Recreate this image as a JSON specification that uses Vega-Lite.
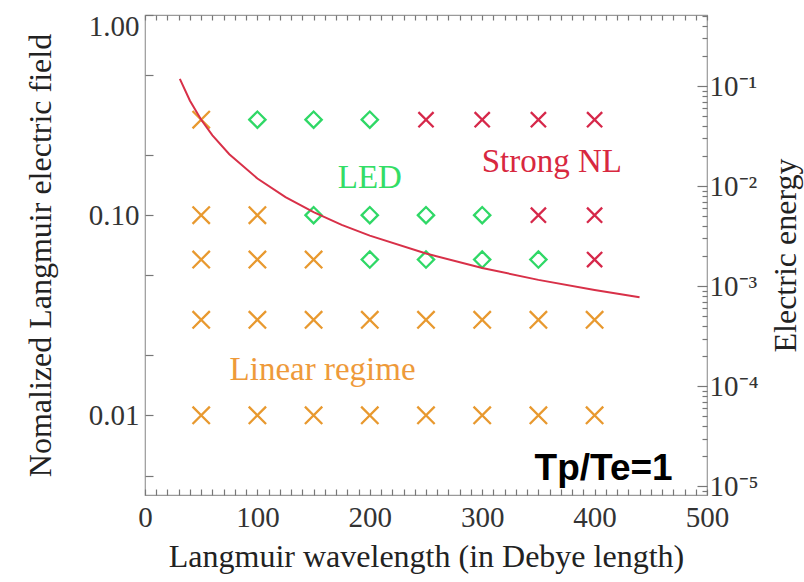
{
  "$schema": "https://vega.github.io/schema/vega-lite/v6.json",
  "width": 562,
  "height": 480,
  "autosize": {"type": "none"},
  "padding": {"left": 145, "top": 15, "right": 97, "bottom": 87},
  "background": "white",
  "config": {
    "view": {"stroke": "#9a9a9a", "strokeWidth": 1.2},
    "axis": {
      "grid": false,
      "domain": false,
      "labelFont": "Liberation Serif",
      "titleFont": "Liberation Serif",
      "labelFontSize": 29,
      "titleFontSize": 32,
      "titleFontWeight": "normal",
      "labelColor": "#333333",
      "titleColor": "#222222",
      "tickColor": "#777777",
      "tickWidth": 1.2,
      "labelFlush": false,
      "labelOverlap": false,
      "labelBound": false
    }
  },
  "datasets": {
    "pts": [
      {"x": 50, "E": 0.3, "energy": 0.0459, "regime": "linear"},
      {"x": 100, "E": 0.3, "energy": 0.0459, "regime": "led"},
      {"x": 150, "E": 0.3, "energy": 0.0459, "regime": "led"},
      {"x": 200, "E": 0.3, "energy": 0.0459, "regime": "led"},
      {"x": 250, "E": 0.3, "energy": 0.0459, "regime": "strong"},
      {"x": 300, "E": 0.3, "energy": 0.0459, "regime": "strong"},
      {"x": 350, "E": 0.3, "energy": 0.0459, "regime": "strong"},
      {"x": 400, "E": 0.3, "energy": 0.0459, "regime": "strong"},
      {"x": 50, "E": 0.1, "energy": 0.0051, "regime": "linear"},
      {"x": 100, "E": 0.1, "energy": 0.0051, "regime": "linear"},
      {"x": 150, "E": 0.1, "energy": 0.0051, "regime": "led"},
      {"x": 200, "E": 0.1, "energy": 0.0051, "regime": "led"},
      {"x": 250, "E": 0.1, "energy": 0.0051, "regime": "led"},
      {"x": 300, "E": 0.1, "energy": 0.0051, "regime": "led"},
      {"x": 350, "E": 0.1, "energy": 0.0051, "regime": "strong"},
      {"x": 400, "E": 0.1, "energy": 0.0051, "regime": "strong"},
      {"x": 50, "E": 0.06, "energy": 0.001836, "regime": "linear"},
      {"x": 100, "E": 0.06, "energy": 0.001836, "regime": "linear"},
      {"x": 150, "E": 0.06, "energy": 0.001836, "regime": "linear"},
      {"x": 200, "E": 0.06, "energy": 0.001836, "regime": "led"},
      {"x": 250, "E": 0.06, "energy": 0.001836, "regime": "led"},
      {"x": 300, "E": 0.06, "energy": 0.001836, "regime": "led"},
      {"x": 350, "E": 0.06, "energy": 0.001836, "regime": "led"},
      {"x": 400, "E": 0.06, "energy": 0.001836, "regime": "strong"},
      {"x": 50, "E": 0.03, "energy": 0.000459, "regime": "linear"},
      {"x": 100, "E": 0.03, "energy": 0.000459, "regime": "linear"},
      {"x": 150, "E": 0.03, "energy": 0.000459, "regime": "linear"},
      {"x": 200, "E": 0.03, "energy": 0.000459, "regime": "linear"},
      {"x": 250, "E": 0.03, "energy": 0.000459, "regime": "linear"},
      {"x": 300, "E": 0.03, "energy": 0.000459, "regime": "linear"},
      {"x": 350, "E": 0.03, "energy": 0.000459, "regime": "linear"},
      {"x": 400, "E": 0.03, "energy": 0.000459, "regime": "linear"},
      {"x": 50, "E": 0.01, "energy": 0.000051, "regime": "linear"},
      {"x": 100, "E": 0.01, "energy": 0.000051, "regime": "linear"},
      {"x": 150, "E": 0.01, "energy": 0.000051, "regime": "linear"},
      {"x": 200, "E": 0.01, "energy": 0.000051, "regime": "linear"},
      {"x": 250, "E": 0.01, "energy": 0.000051, "regime": "linear"},
      {"x": 300, "E": 0.01, "energy": 0.000051, "regime": "linear"},
      {"x": 350, "E": 0.01, "energy": 0.000051, "regime": "linear"},
      {"x": 400, "E": 0.01, "energy": 0.000051, "regime": "linear"}
    ],
    "curve": [
      {"x": 31, "E": 0.480},
      {"x": 40, "E": 0.373},
      {"x": 50, "E": 0.2995},
      {"x": 60, "E": 0.2505},
      {"x": 75, "E": 0.2015},
      {"x": 100, "E": 0.1525},
      {"x": 125, "E": 0.1231},
      {"x": 150, "E": 0.1035},
      {"x": 175, "E": 0.0895},
      {"x": 200, "E": 0.079},
      {"x": 250, "E": 0.0643},
      {"x": 300, "E": 0.0545},
      {"x": 350, "E": 0.0475},
      {"x": 400, "E": 0.0423},
      {"x": 440, "E": 0.0389}
    ]
  },
  "layer": [
    {
      "encoding": {
        "x": {
          "field": "x",
          "type": "quantitative",
          "scale": {"domain": [0, 500], "nice": false, "zero": false},
          "axis": {
            "orient": "bottom",
            "title": "Langmuir wavelength (in Debye length)",
            "values": [0,10,20,30,40,50,60,70,80,90,100,110,120,130,140,150,160,170,180,190,200,210,220,230,240,250,260,270,280,290,300,310,320,330,340,350,360,370,380,390,400,410,420,430,440,450,460,470,480,490,500],
            "labelExpr": "datum.value % 100 === 0 ? datum.label : ''",
            "tickSize": -6,
            "labelPadding": 14,
            "titleY": 61,
            "titleBaseline": "middle"
          }
        },
        "y": {
          "field": "E",
          "type": "quantitative",
          "scale": {"type": "log", "domain": [0.004, 1], "nice": false},
          "axis": {
            "orient": "left",
            "title": "Nomalized Langmuir electric field",
            "values": [1, 0.5, 0.2, 0.1, 0.05, 0.02, 0.01, 0.005],
            "labelExpr": "(datum.value == 1 || datum.value == 0.1 || datum.value == 0.01) ? format(datum.value, '.2f') : ''",
            "tickSize": -8,
            "labelOffset": {"condition": {"test": "datum.value == 1", "value": 11}, "value": 0},
            "labelPadding": 14,
            "titleX": -105,
            "titleBaseline": "middle"
          }
        }
      },
      "layer": [
        {
          "data": {"name": "pts"},
          "mark": {"type": "point", "filled": false, "strokeWidth": 2.3, "opacity": 1},
          "encoding": {
            "shape": {
              "field": "regime",
              "type": "nominal",
              "scale": {"domain": ["linear", "led", "strong"], "range": ["M-1,-1L1,1M-1,1L1,-1", "diamond", "M-1,-1L1,1M-1,1L1,-1"]},
              "legend": null
            },
            "color": {
              "field": "regime",
              "type": "nominal",
              "scale": {"domain": ["linear", "led", "strong"], "range": ["#E8992F", "#2FD866", "#D6284A"]},
              "legend": null
            },
            "size": {
              "field": "regime",
              "type": "nominal",
              "scale": {"domain": ["linear", "led", "strong"], "range": [300, 230, 300]},
              "legend": null
            }
          }
        },
        {
          "data": {"name": "curve"},
          "mark": {"type": "line", "color": "#D83048", "strokeWidth": 2},
          "encoding": {}
        },
        {
          "data": {"values": [{"x": 200, "E": 0.153, "label": "LED"}]},
          "mark": {"type": "text", "font": "Liberation Serif", "fontSize": 33, "color": "#33DD66", "align": "center", "baseline": "middle"},
          "encoding": {"text": {"field": "label"}}
        },
        {
          "data": {"values": [{"x": 362, "E": 0.184, "label": "Strong NL"}]},
          "mark": {"type": "text", "font": "Liberation Serif", "fontSize": 33, "color": "#D8283F", "align": "center", "baseline": "middle"},
          "encoding": {"text": {"field": "label"}}
        },
        {
          "data": {"values": [{"x": 158, "E": 0.0168, "label": "Linear regime"}]},
          "mark": {"type": "text", "font": "Liberation Serif", "fontSize": 33, "color": "#EE9A3A", "align": "center", "baseline": "middle"},
          "encoding": {"text": {"field": "label"}}
        },
        {
          "data": {"values": [{"x": 408, "E": 0.00537, "label": "Tp/Te=1"}]},
          "mark": {"type": "text", "font": "Liberation Sans", "fontSize": 37, "fontWeight": "bold", "color": "#000000", "align": "center", "baseline": "middle"},
          "encoding": {"text": {"field": "label"}}
        }
      ]
    },
    {
      "data": {"name": "pts"},
      "mark": {"type": "point", "opacity": 0},
      "encoding": {
        "x": {
          "field": "x",
          "type": "quantitative",
          "scale": {"domain": [0, 500], "nice": false, "zero": false},
          "axis": {
            "orient": "top",
            "title": null,
            "labels": false,
            "values": [0,10,20,30,40,50,60,70,80,90,100,110,120,130,140,150,160,170,180,190,200,210,220,230,240,250,260,270,280,290,300,310,320,330,340,350,360,370,380,390,400,410,420,430,440,450,460,470,480,490,500],
            "tickSize": -5
          }
        },
        "y": {
          "field": "energy",
          "type": "quantitative",
          "scale": {"type": "log", "domain": [0.0000082, 0.513], "nice": false},
          "axis": {
            "orient": "right",
            "title": "Electric energy",
            "titleAngle": -90,
            "titleX": 78,
            "titleBaseline": "middle",
            "values": [0.000009, 0.00001, 0.00002, 0.00003, 0.00004, 0.00005, 0.00006, 0.00007, 0.00008, 0.00009, 0.0001, 0.0002, 0.0003, 0.0004, 0.0005, 0.0006, 0.0007, 0.0008, 0.0009, 0.001, 0.002, 0.003, 0.004, 0.005, 0.006, 0.007, 0.008, 0.009, 0.01, 0.02, 0.03, 0.04, 0.05, 0.06, 0.07, 0.08, 0.09, 0.1, 0.2, 0.3, 0.4, 0.5],
            "labelExpr": "datum.value == 0.1 ? '10⁻¹' : datum.value == 0.01 ? '10⁻²' : datum.value == 0.001 ? '10⁻³' : datum.value == 0.0001 ? '10⁻⁴' : datum.value == 0.00001 ? '10⁻⁵' : ''",
            "tickSize": {"condition": {"test": "datum.value == 0.1 || datum.value == 0.01 || datum.value == 0.001 || datum.value == 0.0001 || datum.value == 0.00001", "value": -10}, "value": -5},
            "labelPadding": 12
          }
        }
      }
    }
  ],
  "resolve": {"scale": {"y": "independent"}, "axis": {"x": "independent"}}
}
